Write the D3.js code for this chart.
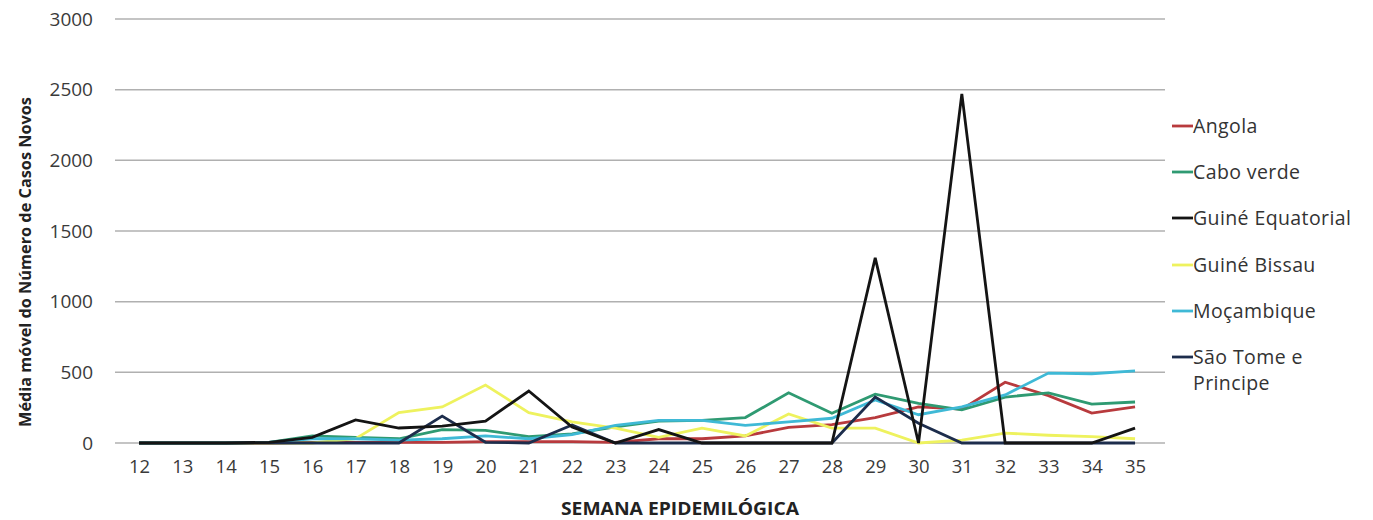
<!DOCTYPE html>
<html>
<head>
<meta charset="utf-8">
<script src="https://cdn.jsdelivr.net/npm/d3@7"></script>
<style>
  html, body { margin: 0; padding: 0; background: #fff; }
  svg { display: block; }
</style>
</head>
<body>
<svg id="chart" width="1373" height="520"></svg>
<script>
const weeks = [12,13,14,15,16,17,18,19,20,21,22,23,24,25,26,27,28,29,30,31,32,33,34,35];
const yTicks = [0, 500, 1000, 1500, 2000, 2500, 3000];

const angola        = [0,0,0,0,5,5,5,5,10,10,10,5,30,30,50,110,130,180,255,240,430,335,212,255];
const caboVerde     = [0,0,0,5,50,40,30,95,90,45,65,115,155,160,180,355,210,345,280,235,325,355,275,290];
const guineEquat    = [0,0,0,5,40,163,106,120,155,368,113,0,95,0,0,0,0,1310,0,2470,0,0,0,105];
const guineBissau   = [0,0,0,0,0,30,215,255,410,215,150,105,40,105,50,205,105,105,0,20,70,55,45,30];
const mocambique    = [0,0,0,5,30,30,20,30,50,30,60,125,160,160,125,150,175,305,200,255,340,495,490,510];
const saoTome       = [0,0,0,0,0,0,0,190,5,0,127,0,0,0,0,0,0,325,140,0,0,0,0,0];

const seriesNames  = ["Angola","Cabo verde","Guiné Equatorial","Guiné Bissau","Moçambique","São Tome e Principe"];
const seriesValues = [angola, caboVerde, guineEquat, guineBissau, mocambique, saoTome];
const seriesColors = ["#b83a3d", "#2f9a72", "#141414", "#eef25e", "#3fb9d6", "#1d2d4c"];

const svg = d3.select("#chart");
const font = "'Open Sans', Lato, sans-serif";

const x = d3.scalePoint().domain(weeks).range([117.4, 1156.7]).padding(0.5);
const y = d3.scaleLinear().domain([0, 3000]).range([443, 19]);

// gridlines
svg.append("g")
  .selectAll("line")
  .data(yTicks)
  .join("line")
  .attr("x1", 115).attr("x2", 1165)
  .attr("y1", d => y(d)).attr("y2", d => y(d))
  .attr("stroke", "#b0b0b0").attr("stroke-width", 1.5);

// y axis labels
const yAxis = svg.append("g").attr("transform", "translate(93,0)")
  .call(d3.axisLeft(y).tickValues(yTicks).tickFormat(d3.format("d")).tickSize(0).tickPadding(0));
yAxis.select(".domain").remove();
yAxis.selectAll("text").attr("font-family", font).attr("font-size", 19).attr("fill", "#3a3a3a");

// x axis labels
const xAxis = svg.append("g").attr("transform", "translate(0,460)")
  .call(d3.axisBottom(x).tickSize(0).tickPadding(0));
xAxis.select(".domain").remove();
xAxis.selectAll("text").attr("font-family", font).attr("font-size", 18.5).attr("fill", "#3a3a3a");

// lines
const line = d3.line().x((d, i) => x(weeks[i])).y(d => y(d));
const drawOrder = [0, 1, 3, 4, 5, 2];
svg.append("g")
  .selectAll("path")
  .data(drawOrder)
  .join("path")
  .attr("d", k => line(seriesValues[k]))
  .attr("fill", "none")
  .attr("stroke", k => seriesColors[k])
  .attr("stroke-width", 2.8)
  .attr("stroke-linejoin", "miter");

// legend
const legendY = [126, 172, 218, 265, 311, 357];
const lg = svg.append("g");
seriesNames.forEach((name, i) => {
  lg.append("line")
    .attr("x1", 1172).attr("x2", 1193)
    .attr("y1", legendY[i]).attr("y2", legendY[i])
    .attr("stroke", seriesColors[i]).attr("stroke-width", 2.8);
  const t = lg.append("text")
    .attr("x", 1193).attr("y", legendY[i] + 7)
    .attr("font-family", font).attr("font-size", 19.5).attr("letter-spacing", 0.4).attr("fill", "#333");
  if (name === "São Tome e Principe") {
    t.append("tspan").attr("x", 1193).text("São Tome e");
    t.append("tspan").attr("x", 1193).attr("dy", 26).text("Principe");
  } else {
    t.text(name);
  }
});

// axis titles
svg.append("text")
  .attr("x", 680).attr("y", 515)
  .attr("text-anchor", "middle")
  .attr("font-family", font).attr("font-size", 17).attr("font-weight", "bold").attr("fill", "#222")
  .attr("textLength", 238).attr("lengthAdjust", "spacingAndGlyphs")
  .text("SEMANA EPIDEMILÓGICA");

svg.append("text")
  .attr("transform", "translate(31,262) rotate(-90)")
  .attr("text-anchor", "middle")
  .attr("font-family", font).attr("font-size", 16.3).attr("font-weight", "bold").attr("fill", "#222")
  .text("Média móvel do Número de Casos Novos");
</script>
</body>
</html>
